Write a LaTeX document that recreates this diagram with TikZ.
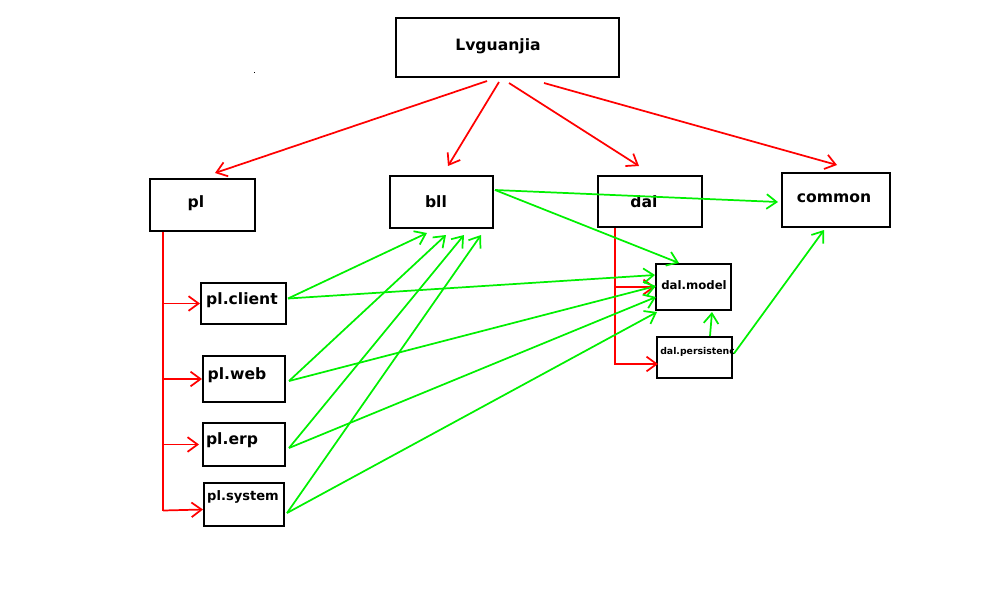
\documentclass[tikz,border=0pt]{standalone}
\usepackage{fontspec}
\setmainfont{DejaVu Sans}
\usetikzlibrary{arrows.meta,fit,calc}
\definecolor{rd}{RGB}{255,0,0}
\definecolor{gn}{RGB}{0,240,0}
\begin{document}
\begin{tikzpicture}[x=0.75pt,y=-0.75pt,
  box/.style={draw=black,line width=1.5pt,inner sep=0pt},
  lbl/.style={anchor=base,inner sep=0pt,font=\bfseries\fontsize{11.7}{13}\selectfont},
  rline/.style={draw=rd,line width=1.3pt},
  rarrow/.style={rline,-{Straight Barb[length=7.5pt,width=11pt]}},
  garrow/.style={draw=gn,line width=1.3pt,-{Straight Barb[length=7.5pt,width=11pt]}}]
\useasboundingbox (0,0) rectangle (996,612);
% boxes
\node[box,fit={(396,18)(619,77)}] (lv) {};
\node[box,fit={(150,179)(255,231)}] (pl) {};
\node[box,fit={(390,176)(493,228)}] (bll) {};
\node[box,fit={(598,176)(702,227)}] (dal) {};
\node[box,fit={(782,173)(890,227)}] (com) {};
\node[box,fit={(201,283)(286,324)}] (pc) {};
\node[box,fit={(203,356)(285,402)}] (pw) {};
\node[box,fit={(203,423)(285,466)}] (pe) {};
\node[box,fit={(204,483)(284,526)}] (ps) {};
\node[box,fit={(656,264)(731,310)}] (dm) {};
\node[box,fit={(657,337)(732,378)}] (dp) {};
% labels
\node[lbl] (tlv) at (498,50) {Lvguanjia};
\node[lbl] (tpl) at (196,207) {pl};
\node[lbl] (tbll) at (436,207) {bll};
\node[lbl] (tdal) at (644,207) {dal};
\node[lbl] (tcom) at (834,202) {common};
\node[lbl] (tpc) at (242,304) {pl.client};
\node[lbl] (tpw) at (237,379) {pl.web};
\node[lbl] (tpe) at (232,444) {pl.erp};
\node[lbl,font=\bfseries\fontsize{9.8}{11}\selectfont] (tps) at (243,500) {pl.system};
\node[lbl,font=\bfseries\fontsize{8.8}{10}\selectfont] (tdm) at (694,289) {dal.model};
\begin{scope}
\clip (dp.south west) rectangle (dp.north east);
\node[lbl,anchor=base west,font=\bfseries\fontsize{7}{8}\selectfont] (tdp) at (660,354) {dal.persistence};
\end{scope}
\fill (253.5,71.5) rectangle (255,73);
% red arrows from Lvguanjia
\draw[rarrow] ($(lv.south west)+(92,3)$) -- ($(pl.north west)+(66,-5)$);
\draw[rarrow] ($(lv.south west)+(104,4)$) -- ($(bll.north west)+(59,-9)$);
\draw[rarrow] ($(lv.south west)+(114,5)$) -- ($(dal.north west)+(42,-9)$);
\draw[rarrow] ($(lv.south west)+(149,5)$) -- ($(com.north west)+(56,-7)$);
% pl tree
\coordinate (pltop) at ($(pl.south west)+(14,0)$);
\coordinate (plbot) at ($(ps.west)+(-40,6)$);
\draw[rline] (pltop) -- (pltop |- plbot);
\draw[rarrow] (pltop |- pc.west) -- (pc.west);
\draw[rarrow] (pltop |- pw.west) -- (pw.west);
\draw[rarrow] (pltop |- pe.west) -- ($(pe.west)+(-3,0)$);
\draw[rarrow] (pltop |- plbot) -- ($(ps.west)+(0,5)$);
% dal tree
\coordinate (daltop) at ($(dal.south west)+(18,0)$);
\draw[rarrow] (daltop) |- ($(dp.south west)+(2,-15)$);
\draw[rarrow] (daltop |- dm.west) -- (dm.west);
% green arrows
\coordinate (bllout) at ($(bll.north east)+(1,15)$);
\draw[garrow] (bllout) -- ($(com.west)+(-3,2)$);
\draw[garrow] (bllout) -- ($(dm.north west)+(24,0)$);
\draw[garrow] ($(pc.east)+(1,-5)$) -- ($(bll.south west)+(38,4)$);
\draw[garrow] ($(pc.east)+(1,-5)$) -- ($(dm.west)+(0,-12)$);
\draw[garrow] ($(pw.east)+(3,2)$) -- ($(bll.south west)+(57,6)$);
\draw[garrow] ($(pw.east)+(3,2)$) -- ($(dm.west)+(1,-1)$);
\draw[garrow] ($(pe.east)+(3,3.5)$) -- ($(bll.south west)+(75,6)$);
\draw[garrow] ($(pe.east)+(3,3.5)$) -- ($(dm.west)+(1,10)$);
\draw[garrow] ($(ps.east)+(2,8.5)$) -- ($(bll.south west)+(92,6)$);
\draw[garrow] ($(ps.east)+(2,8.5)$) -- ($(dm.south west)+(2,1)$);
\draw[garrow] ($(dp.north west)+(54,0)$) -- ($(dm.south west)+(57,1)$);
\draw[garrow] ($(dp.east)+(1,-4)$) -- ($(com.south west)+(43,2)$);
\end{tikzpicture}
\end{document}
